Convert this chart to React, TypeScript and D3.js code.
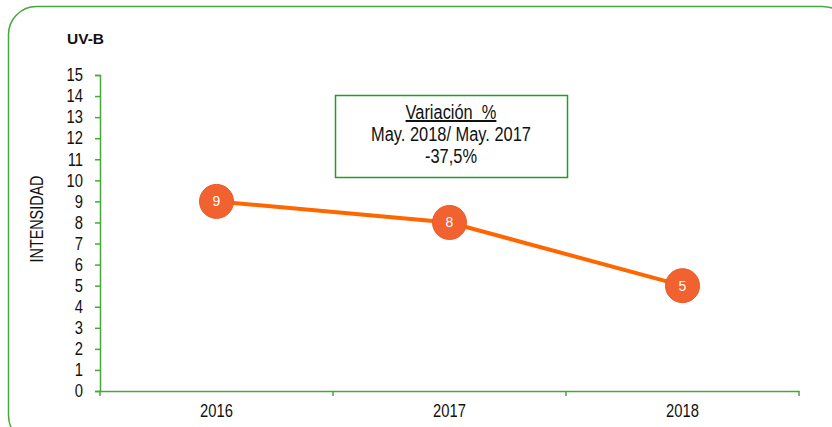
import * as d3 from 'd3';
import { useEffect, useRef } from 'react';

const years = ['2016', '2017', '2018'];
const intensidad = [9, 8, 5];
const yTicks = d3.range(0, 16);
const title = 'UV-B';
const yLabel = 'INTENSIDAD';
const noteLines = ['Variación  %', 'May. 2018/ May. 2017', '-37,5%'];

// no narrow font installed, so squeeze the regular one
const squeeze = (sel: any, k = 0.82) => {
    sel.each(function (this: SVGTextElement) {
        const w = this.getComputedTextLength();
        d3.select(this)
            .attr('textLength', w * k)
            .attr('lengthAdjust', 'spacingAndGlyphs');
    });
};

const App = () => {
    const ref = useRef<SVGSVGElement>(null);

    useEffect(() => {
        if (!ref.current) return;
        const svg = d3.select(ref.current);
        svg.selectAll('*').remove();

        const W = 832, H = 427;
        const margin = { top: 75, bottom: 36, left: 100, right: 33 };
        const green = '#46a83a';
        const font = 'Liberation Sans, Arial, sans-serif';

        // outer rounded frame (runs past the right/bottom edges)
        svg.append('rect')
            .attr('x', 8.5).attr('y', 6.5)
            .attr('width', 842).attr('height', 437)
            .attr('rx', 28).attr('ry', 28)
            .attr('fill', 'white')
            .attr('stroke', green)
            .attr('stroke-width', 1.5);

        const xScale = d3.scaleBand()
            .domain(years)
            .range([margin.left, W - margin.right]);

        const yScale = d3.scaleLinear()
            .domain([0, 15])
            .range([H - margin.bottom, margin.top]);

        // y axis
        const yAxis = svg.append('g')
            .attr('transform', `translate(${margin.left},0)`)
            .call(d3.axisLeft(yScale).tickValues(yTicks).tickSize(5).tickPadding(12).tickFormat(d3.format('d')));
        yAxis.select('.domain').attr('stroke', green).attr('stroke-width', 1.5);
        yAxis.selectAll('line').attr('stroke', green).attr('stroke-width', 1.5);
        yAxis.selectAll('text').attr('font-family', font).attr('font-size', 18).attr('fill', '#111');
        squeeze(yAxis.selectAll('text'));

        // x axis
        const x0 = yScale(0);
        const xAxis = svg.append('g')
            .attr('transform', `translate(0,${x0})`)
            .call(d3.axisBottom(xScale).tickSize(0));
        xAxis.select('.domain').attr('stroke', green).attr('stroke-width', 1.5);
        xAxis.selectAll('text')
            .attr('y', 26).attr('dy', null)
            .attr('font-family', font).attr('font-size', 18).attr('fill', '#111');
        squeeze(xAxis.selectAll('text'));
        const bounds = [...years.map(y => xScale(y) as number), W - margin.right];
        svg.append('g').selectAll('line')
            .data(bounds).enter()
            .append('line')
            .attr('x1', d => d).attr('x2', d => d)
            .attr('y1', x0).attr('y2', x0 + 5)
            .attr('stroke', green).attr('stroke-width', 1.5);

        // title + y label
        svg.append('text')
            .attr('x', 67).attr('y', 44)
            .attr('font-family', font).attr('font-size', 15.5).attr('font-weight', 'bold')
            .attr('fill', '#111')
            .text(title);

        const yl = svg.append('text')
            .attr('transform', `translate(43,${(yScale(0) + yScale(15)) / 2 - 14}) rotate(-90)`)
            .attr('text-anchor', 'middle')
            .attr('font-family', font).attr('font-size', 17.5)
            .attr('fill', '#111')
            .text(yLabel);
        squeeze(yl);

        // line
        const cx = (d: string) => (xScale(d) as number) + xScale.bandwidth() / 2;
        const line = d3.line<number>()
            .x((d, i) => cx(years[i]))
            .y(d => yScale(d));
        svg.append('path')
            .datum(intensidad)
            .attr('d', line)
            .attr('fill', 'none')
            .attr('stroke', '#ff6600')
            .attr('stroke-width', 4);

        const pts = svg.append('g').selectAll('g')
            .data(intensidad).enter()
            .append('g')
            .attr('transform', (d, i) => `translate(${cx(years[i])},${yScale(d)})`);
        pts.append('circle')
            .attr('r', 17)
            .attr('fill', '#f26130')
            .attr('stroke', '#ee5a22')
            .attr('stroke-width', 1);
        pts.append('text')
            .attr('y', 5)
            .attr('text-anchor', 'middle')
            .attr('font-family', font).attr('font-size', 14)
            .attr('fill', 'white')
            .text(d => d);

        // annotation box
        const note = svg.append('g');
        note.append('rect')
            .attr('x', 335.5).attr('y', 95.5)
            .attr('width', 232).attr('height', 82)
            .attr('fill', 'white')
            .attr('stroke', '#1fa020')
            .attr('stroke-width', 1.5);
        const nt = note.selectAll('text')
            .data(noteLines).enter()
            .append('text')
            .attr('x', 451)
            .attr('y', (d, i) => 119 + i * 22)
            .attr('text-anchor', 'middle')
            .attr('font-family', font).attr('font-size', 20)
            .attr('fill', '#111')
            .attr('text-decoration', (d, i) => i === 0 ? 'underline' : null)
            .style('white-space', 'pre')
            .text(d => d);
        squeeze(nt);
    }, []);

    return (
        <div style={{ position: 'absolute', left: 0, top: 0 }}>
            <svg ref={ref} width={832} height={427} style={{ display: 'block' }} />
        </div>
    );
};

export default App;
